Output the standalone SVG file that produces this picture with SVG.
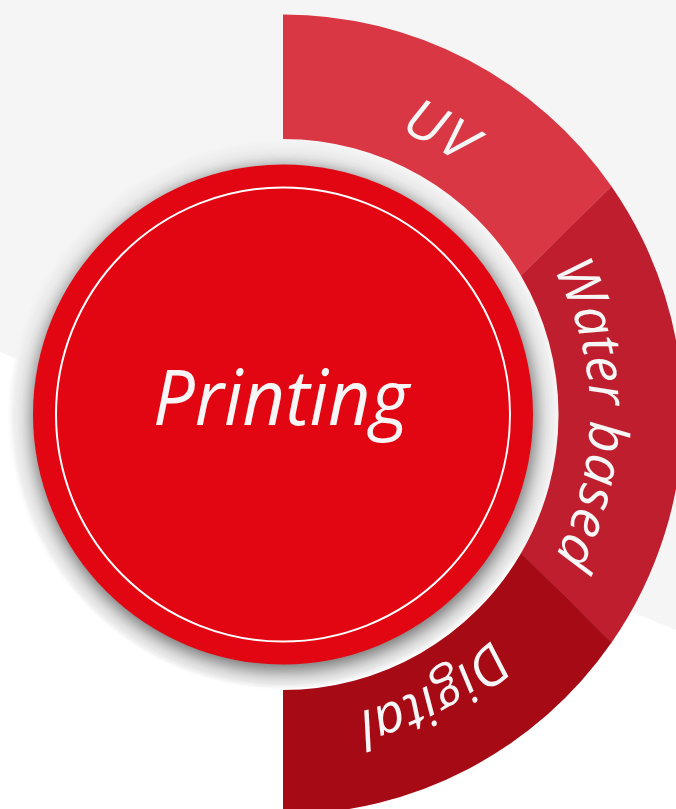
<svg xmlns="http://www.w3.org/2000/svg" width="676" height="809" viewBox="0 0 676 809">
  <style>
    .lbl { font-family: "Open Sans", "Noto Sans", "Liberation Sans", sans-serif; font-style: italic; font-weight: 400; fill: #f6f6f6; }
    .ring { font-size: 54px; }
    .title { font-size: 76px; }
    .seam { fill: none; stroke-width: 1; }
  </style>
  <defs>
    <clipPath id="discClip"><circle cx="283" cy="414.5" r="274"/></clipPath>
    <filter id="soft" x="-20%" y="-20%" width="140%" height="140%"><feGaussianBlur stdDeviation="9"/></filter>
    <filter id="edge" x="-10%" y="-10%" width="120%" height="120%"><feGaussianBlur stdDeviation="2"/></filter>
    <path id="labelArc" d="M 283 107.5 A 307 307 0 0 1 283 721.5"/>
  </defs>

  <g id="background">
    <rect x="0" y="0" width="676" height="809" fill="#ffffff"/>
    <polygon points="0,0 676,0 676,630 0,352" fill="#f5f5f5"/>
  </g>

  <g id="shadow-disc">
    <circle cx="283" cy="414.5" r="272" fill="#f0f0f0" filter="url(#edge)"/>
    <g clip-path="url(#discClip)">
      <circle cx="284" cy="419" r="252" fill="#4a4a4a" opacity="0.78" filter="url(#soft)"/>
    </g>
  </g>

  <g id="node-printing">
    <circle cx="283" cy="414.5" r="250" fill="#e20613"/>
    <circle cx="283" cy="414.5" r="227" fill="none" stroke="#ffffff" stroke-width="2"/>
    <text class="lbl title" x="281" y="425" text-anchor="middle" textLength="256" lengthAdjust="spacingAndGlyphs">Printing</text>
  </g>

  <g id="node-uv">
    <path d="M 283 14.5 A 400 400 0 0 1 611.4 186.2 L 520.9 275.5 A 275.5 275.5 0 0 0 283 139 Z" fill="#d93744"/>
    <text class="lbl ring"><textPath href="#labelArc" startOffset="155" text-anchor="middle" textLength="70" lengthAdjust="spacingAndGlyphs">UV</textPath></text>
  </g>

  <g id="node-water">
    <path d="M 611.4 186.2 A 400 400 0 0 1 611.4 642.8 L 520.9 553.5 A 275.5 275.5 0 0 0 520.9 275.5 Z" fill="#be1e2d"/>
    <text class="lbl ring"><textPath href="#labelArc" startOffset="481" text-anchor="middle" textLength="302" lengthAdjust="spacingAndGlyphs">Water based</textPath></text>
  </g>

  <g id="node-digital">
    <path d="M 611.4 642.8 A 400 400 0 0 1 283 814.5 L 283 690 A 275.5 275.5 0 0 0 520.9 553.5 Z" fill="#a50a15"/>
    <text class="lbl ring"><textPath href="#labelArc" startOffset="812" text-anchor="middle" textLength="155" lengthAdjust="spacingAndGlyphs">Digital</textPath></text>
  </g>

  <g id="connectors">
    <line class="seam" x1="611.4" y1="186.2" x2="520.9" y2="275.5" stroke="#d0404c"/>
    <line class="seam" x1="611.4" y1="642.8" x2="520.9" y2="553.5" stroke="#9a0a14"/>
  </g>
</svg>
